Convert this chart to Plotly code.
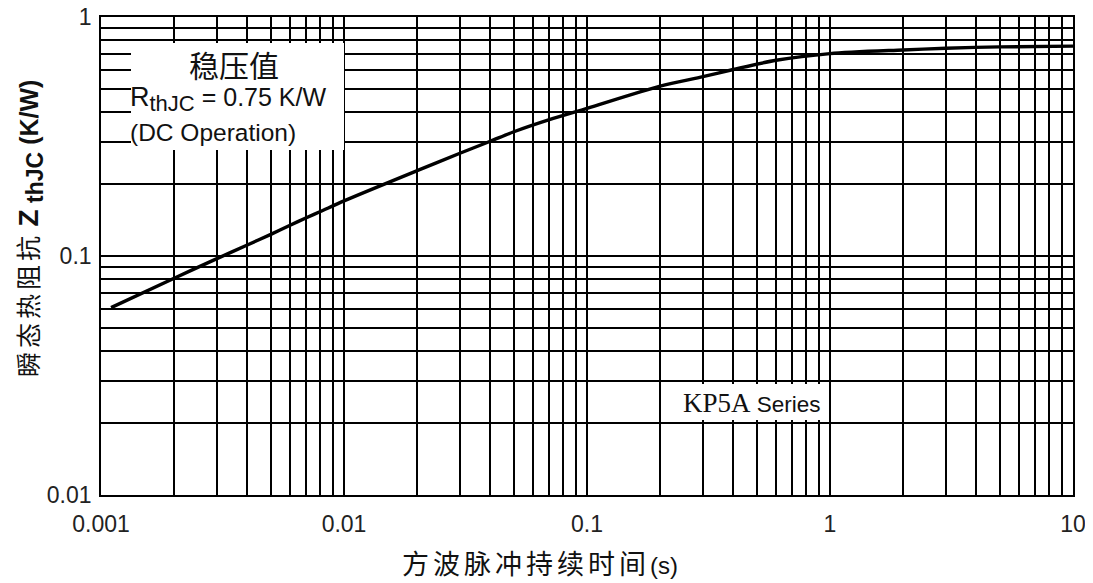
import plotly.graph_objects as go

# Data
t_s = [0.0011, 0.002, 0.003, 0.004, 0.005, 0.006, 0.007, 0.008, 0.01, 0.02, 0.03,
       0.04, 0.05, 0.07, 0.1, 0.2, 0.3, 0.4, 0.6, 1.0, 2.0, 3.0, 5.0, 10.0]
zth = [0.0608, 0.0807, 0.0975, 0.1112, 0.1232, 0.1345, 0.1446, 0.1535, 0.170, 0.2275, 0.269,
       0.302, 0.331, 0.372, 0.415, 0.514, 0.563, 0.603, 0.659, 0.703, 0.728, 0.740, 0.750, 0.755]

x_decades = [0.001, 0.01, 0.1, 1, 10]
x_decade_labels = ["0.001", "0.01", "0.1", "1", "10"]
y_decades = [0.01, 0.1, 1]
y_decade_labels = ["0.01", "0.1", "1"]
minor_mult = [2, 3, 4, 5, 6, 7, 8, 9]

x_minor = [d * m for d in x_decades[:-1] for m in minor_mult]
y_minor = [d * m for d in y_decades[:-1] for m in minor_mult]

# screen geometry of the plot area (page has an 8px body margin)
OFF = 8
PL, PR, PT, PB = 101, 1073, 17, 495
W, H = 1093 - OFF, 583 - OFF
L, T = PL - OFF, PT - OFF
R, B = 1093 - PR, 583 - PB
pw, ph = PR - PL, PB - PT


def px(xpix):
    return (xpix - PL) / pw


def py(ypix):
    return (PB - ypix) / ph


fig = go.Figure()
fig.add_trace(go.Scatter(x=t_s, y=zth, mode="lines",
                         line=dict(color="black", width=3.4, shape="spline", smoothing=0.8),
                         showlegend=False, hoverinfo="skip"))

sans = "Liberation Sans, Arial, sans-serif"
cjk = "Noto Sans CJK SC"
tickfont = dict(family=sans, size=23, color="#222")
grid = dict(gridcolor="black", gridwidth=1.6)

fig.update_layout(
    width=W, height=H,
    margin=dict(l=L, r=R, t=T, b=B, pad=0, autoexpand=False),
    paper_bgcolor="white", plot_bgcolor="white",
    xaxis=dict(type="log", range=[-3, 1], tickmode="array", tickvals=x_decades, ticktext=x_decade_labels,
               showgrid=True, **grid, automargin=False,
               minor=dict(tickmode="array", tickvals=x_minor, showgrid=True, ticks="", **grid),
               showline=True, linecolor="black", linewidth=1.6, mirror=True, ticks="",
               tickfont=tickfont, zeroline=False, ticklabelstandoff=8, ticklabeloverflow="allow"),
    yaxis=dict(type="log", range=[-2, 0], tickmode="array", tickvals=y_decades, ticktext=y_decade_labels,
               showgrid=True, **grid, automargin=False,
               minor=dict(tickmode="array", tickvals=y_minor, showgrid=True, ticks="", **grid),
               showline=True, linecolor="black", linewidth=1.6, mirror=True, ticks="",
               tickfont=tickfont, zeroline=False, ticklabelstandoff=3, ticklabeloverflow="allow"),
)

# White boxes that mask the grid behind the notes
fig.add_shape(type="rect", xref="paper", yref="paper", x0=px(131), x1=px(344), y0=py(150), y1=py(43),
              fillcolor="white", line=dict(width=0), layer="above")
fig.add_shape(type="rect", xref="paper", yref="paper", x0=px(680), x1=px(822), y0=py(420), y1=py(384),
              fillcolor="white", line=dict(width=0), layer="above")

fig.add_annotation(xref="paper", yref="paper", x=px(234), y=py(64), text="稳压值", showarrow=False,
                   font=dict(family=cjk, size=30, color="#111"), xanchor="center", yanchor="middle")
fig.add_annotation(xref="paper", yref="paper", x=px(128), y=py(99),
                   text="<span style='font-size:27px'>R</span><sub><span style='font-size:22px'>thJC</span></sub>"
                        " = 0.75 K/W",
                   showarrow=False, font=dict(family=sans, size=25, color="#111"),
                   xanchor="left", yanchor="middle")
fig.add_annotation(xref="paper", yref="paper", x=px(128), y=py(132),
                   text="(DC Operation)", showarrow=False,
                   font=dict(family=sans, size=24.5, color="#111"), xanchor="left", yanchor="middle")
fig.add_annotation(xref="paper", yref="paper", x=px(681), y=py(403),
                   text="<span style='font-family:Liberation Serif, Times New Roman, serif;font-size:27px'>KP5A</span>"
                        "<span style='font-size:22.5px'> Series</span>",
                   showarrow=False, font=dict(family=sans, size=22.5, color="#111"),
                   xanchor="left", yanchor="middle")

# Axis titles
fig.add_annotation(xref="paper", yref="paper", x=px(540), y=py(562),
                   text="<span style='letter-spacing:4px'>方波脉冲持续时间</span>"
                        "<span style='font-family:Liberation Sans;font-size:24px'>(s)</span>",
                   showarrow=False, font=dict(family=cjk, size=27, color="#111"),
                   xanchor="center", yanchor="middle")
fig.add_annotation(xref="paper", yref="paper", x=px(28), y=py(229), textangle=-90,
                   text="<span style='letter-spacing:4px'>瞬态热阻抗</span> "
                        "<b><span style='font-family:Liberation Sans;font-size:28px'>Z</span>"
                        "<sub><span style='font-family:Liberation Sans;font-size:23px'> thJC</span></sub>"
                        "<span style='font-family:Liberation Sans;font-size:25px'> (K/W)</span></b>",
                   showarrow=False, font=dict(family=cjk, size=25, color="#111"),
                   xanchor="center", yanchor="middle")

fig.write_html("out.html")
